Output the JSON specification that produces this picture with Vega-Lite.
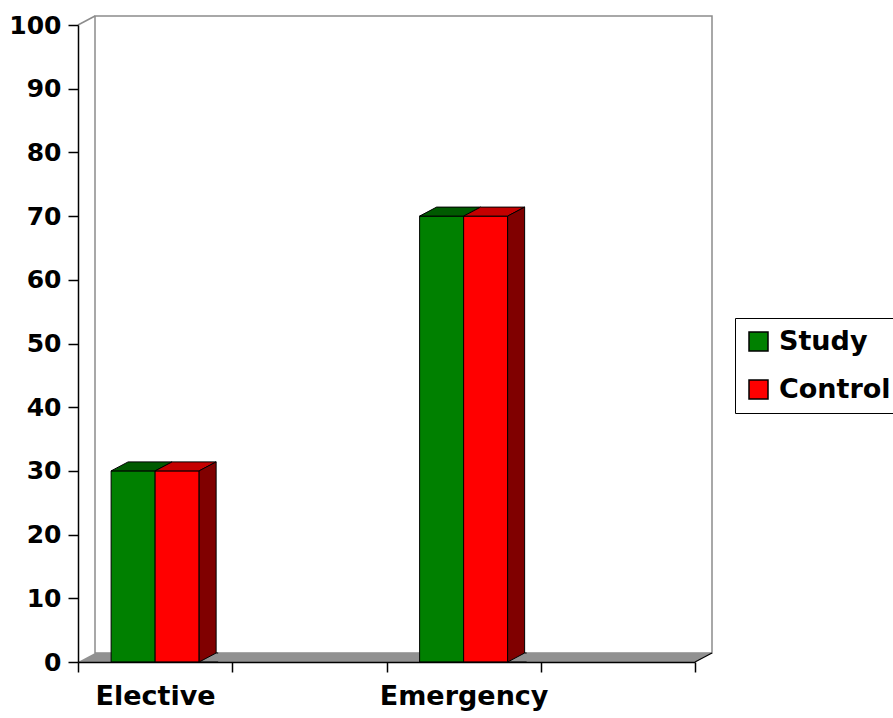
{
  "$schema": "https://vega.github.io/schema/vega-lite/v6.json",
  "width": 617,
  "height": 637,
  "autosize": {"type": "none"},
  "padding": {"left": 78, "top": 25, "right": 198, "bottom": 56},
  "background": "white",
  "config": {
    "view": {"stroke": null},
    "font": "DejaVu Sans"
  },
  "data": {
    "values": [
      {"category": "Elective", "series": "Study", "value": 30},
      {"category": "Elective", "series": "Control", "value": 30},
      {"category": "Emergency", "series": "Study", "value": 70},
      {"category": "Emergency", "series": "Control", "value": 70}
    ]
  },
  "layer": [
    {
      "data": {"values": [{}]},
      "encoding": {
        "x": {"datum": 0, "type": "quantitative", "scale": {"domain": [0, 1], "nice": false, "zero": false}, "axis": null},
        "y": {"datum": 0, "type": "quantitative", "scale": {"domain": [0, 100], "nice": false}}
      },
      "layer": [
        {
          "mark": {"type": "rect", "filled": false, "stroke": "#8c8c8c", "strokeWidth": 1.5, "xOffset": 17, "x2Offset": 17, "yOffset": -9, "y2Offset": -9},
          "encoding": {
            "x2": {"datum": 1},
            "y2": {"datum": 100}
          }
        },
        {
          "mark": {"type": "point", "shape": "M0,0L617,0L634,-9L17,-9Z", "size": 4, "filled": true, "fill": "#919191", "stroke": null, "opacity": 1}
        },
        {
          "mark": {"type": "point", "shape": "M617,0L634,-9", "size": 4, "filled": false, "stroke": "black", "strokeWidth": 1.2, "opacity": 1}
        },
        {
          "mark": {"type": "point", "shape": "M0,0L17,-9", "size": 4, "filled": false, "stroke": "#8c8c8c", "strokeWidth": 1.5, "opacity": 1},
          "encoding": {"y": {"datum": 100, "type": "quantitative"}}
        }
      ]
    },
    {
      "encoding": {
        "x": {
          "field": "category",
          "type": "nominal",
          "scale": {"domain": ["Elective", " ", "Emergency", "  "], "paddingInner": 0, "paddingOuter": 0},
          "axis": {
            "title": null,
            "labelAngle": 0,
            "tickBand": "extent",
            "domainColor": "black",
            "domainWidth": 1.5,
            "tickColor": "black",
            "tickWidth": 1.5,
            "tickSize": 10,
            "labelPadding": 11,
            "labelFont": "DejaVu Sans",
            "labelFontWeight": "bold",
            "labelFontSize": 27,
            "labelColor": "black",
            "zindex": 1
          }
        },
        "xOffset": {"field": "series", "type": "nominal", "scale": {"domain": ["Study", "Control"], "paddingInner": 0, "paddingOuter": 0.7528}},
        "y": {
          "field": "value",
          "type": "quantitative",
          "scale": {"domain": [0, 100], "nice": false},
          "axis": {
            "title": null,
            "values": [0, 10, 20, 30, 40, 50, 60, 70, 80, 90, 100],
            "grid": false,
            "domainColor": "black",
            "domainWidth": 1.5,
            "tickColor": "black",
            "tickWidth": 1.5,
            "tickSize": 10,
            "labelPadding": 7,
            "labelFont": "DejaVu Sans",
            "labelFontWeight": "bold",
            "labelFontSize": 25,
            "labelColor": "black",
            "zindex": 1
          }
        }
      },
      "layer": [
        {
          "mark": {"type": "bar", "stroke": "black", "strokeWidth": 1},
          "encoding": {
            "color": {
              "field": "series",
              "type": "nominal",
              "scale": {"domain": ["Study", "Control"], "range": ["#008000", "#ff0000"]},
              "legend": {
                "orient": "none",
                "legendX": 657,
                "legendY": 293,
                "title": null,
                "direction": "vertical",
                "symbolType": "square",
                "symbolSize": 361,
                "symbolStrokeColor": "black",
                "symbolStrokeWidth": 1.5,
                "labelFont": "DejaVu Sans",
                "labelFontWeight": "bold",
                "labelFontSize": 27,
                "labelColor": "black",
                "labelOffset": 7,
                "rowPadding": 20,
                "padding": 10,
                "strokeColor": "black",
                "fillColor": "white"
              }
            }
          }
        },
        {
          "mark": {"type": "point", "shape": "M-22,0L22,0L39,-9L-5,-9Z", "size": 4, "filled": true, "stroke": "black", "strokeWidth": 1, "opacity": 1},
          "encoding": {
            "fill": {"field": "series", "type": "nominal", "scale": {"domain": ["Study", "Control"], "range": ["#005a00", "#c40000"]}, "legend": null}
          }
        },
        {
          "transform": [{"filter": "datum.series === 'Control'"}],
          "mark": {"type": "point", "shape": "M22,0L39,-9L39,800L22,809Z", "size": 4, "filled": true, "fill": "#800000", "stroke": "black", "strokeWidth": 1, "opacity": 1, "clip": true}
        },
        {
          "transform": [{"filter": "datum.series === 'Control'"}],
          "mark": {"type": "point", "shape": "M41,-9L39,-9L22,0L41,0", "size": 4, "filled": true, "fill": "#919191", "stroke": "black", "strokeWidth": 1, "opacity": 1},
          "encoding": {"y": {"datum": 0, "type": "quantitative"}}
        }
      ]
    }
  ],
  "resolve": {"scale": {"x": "independent"}}
}
